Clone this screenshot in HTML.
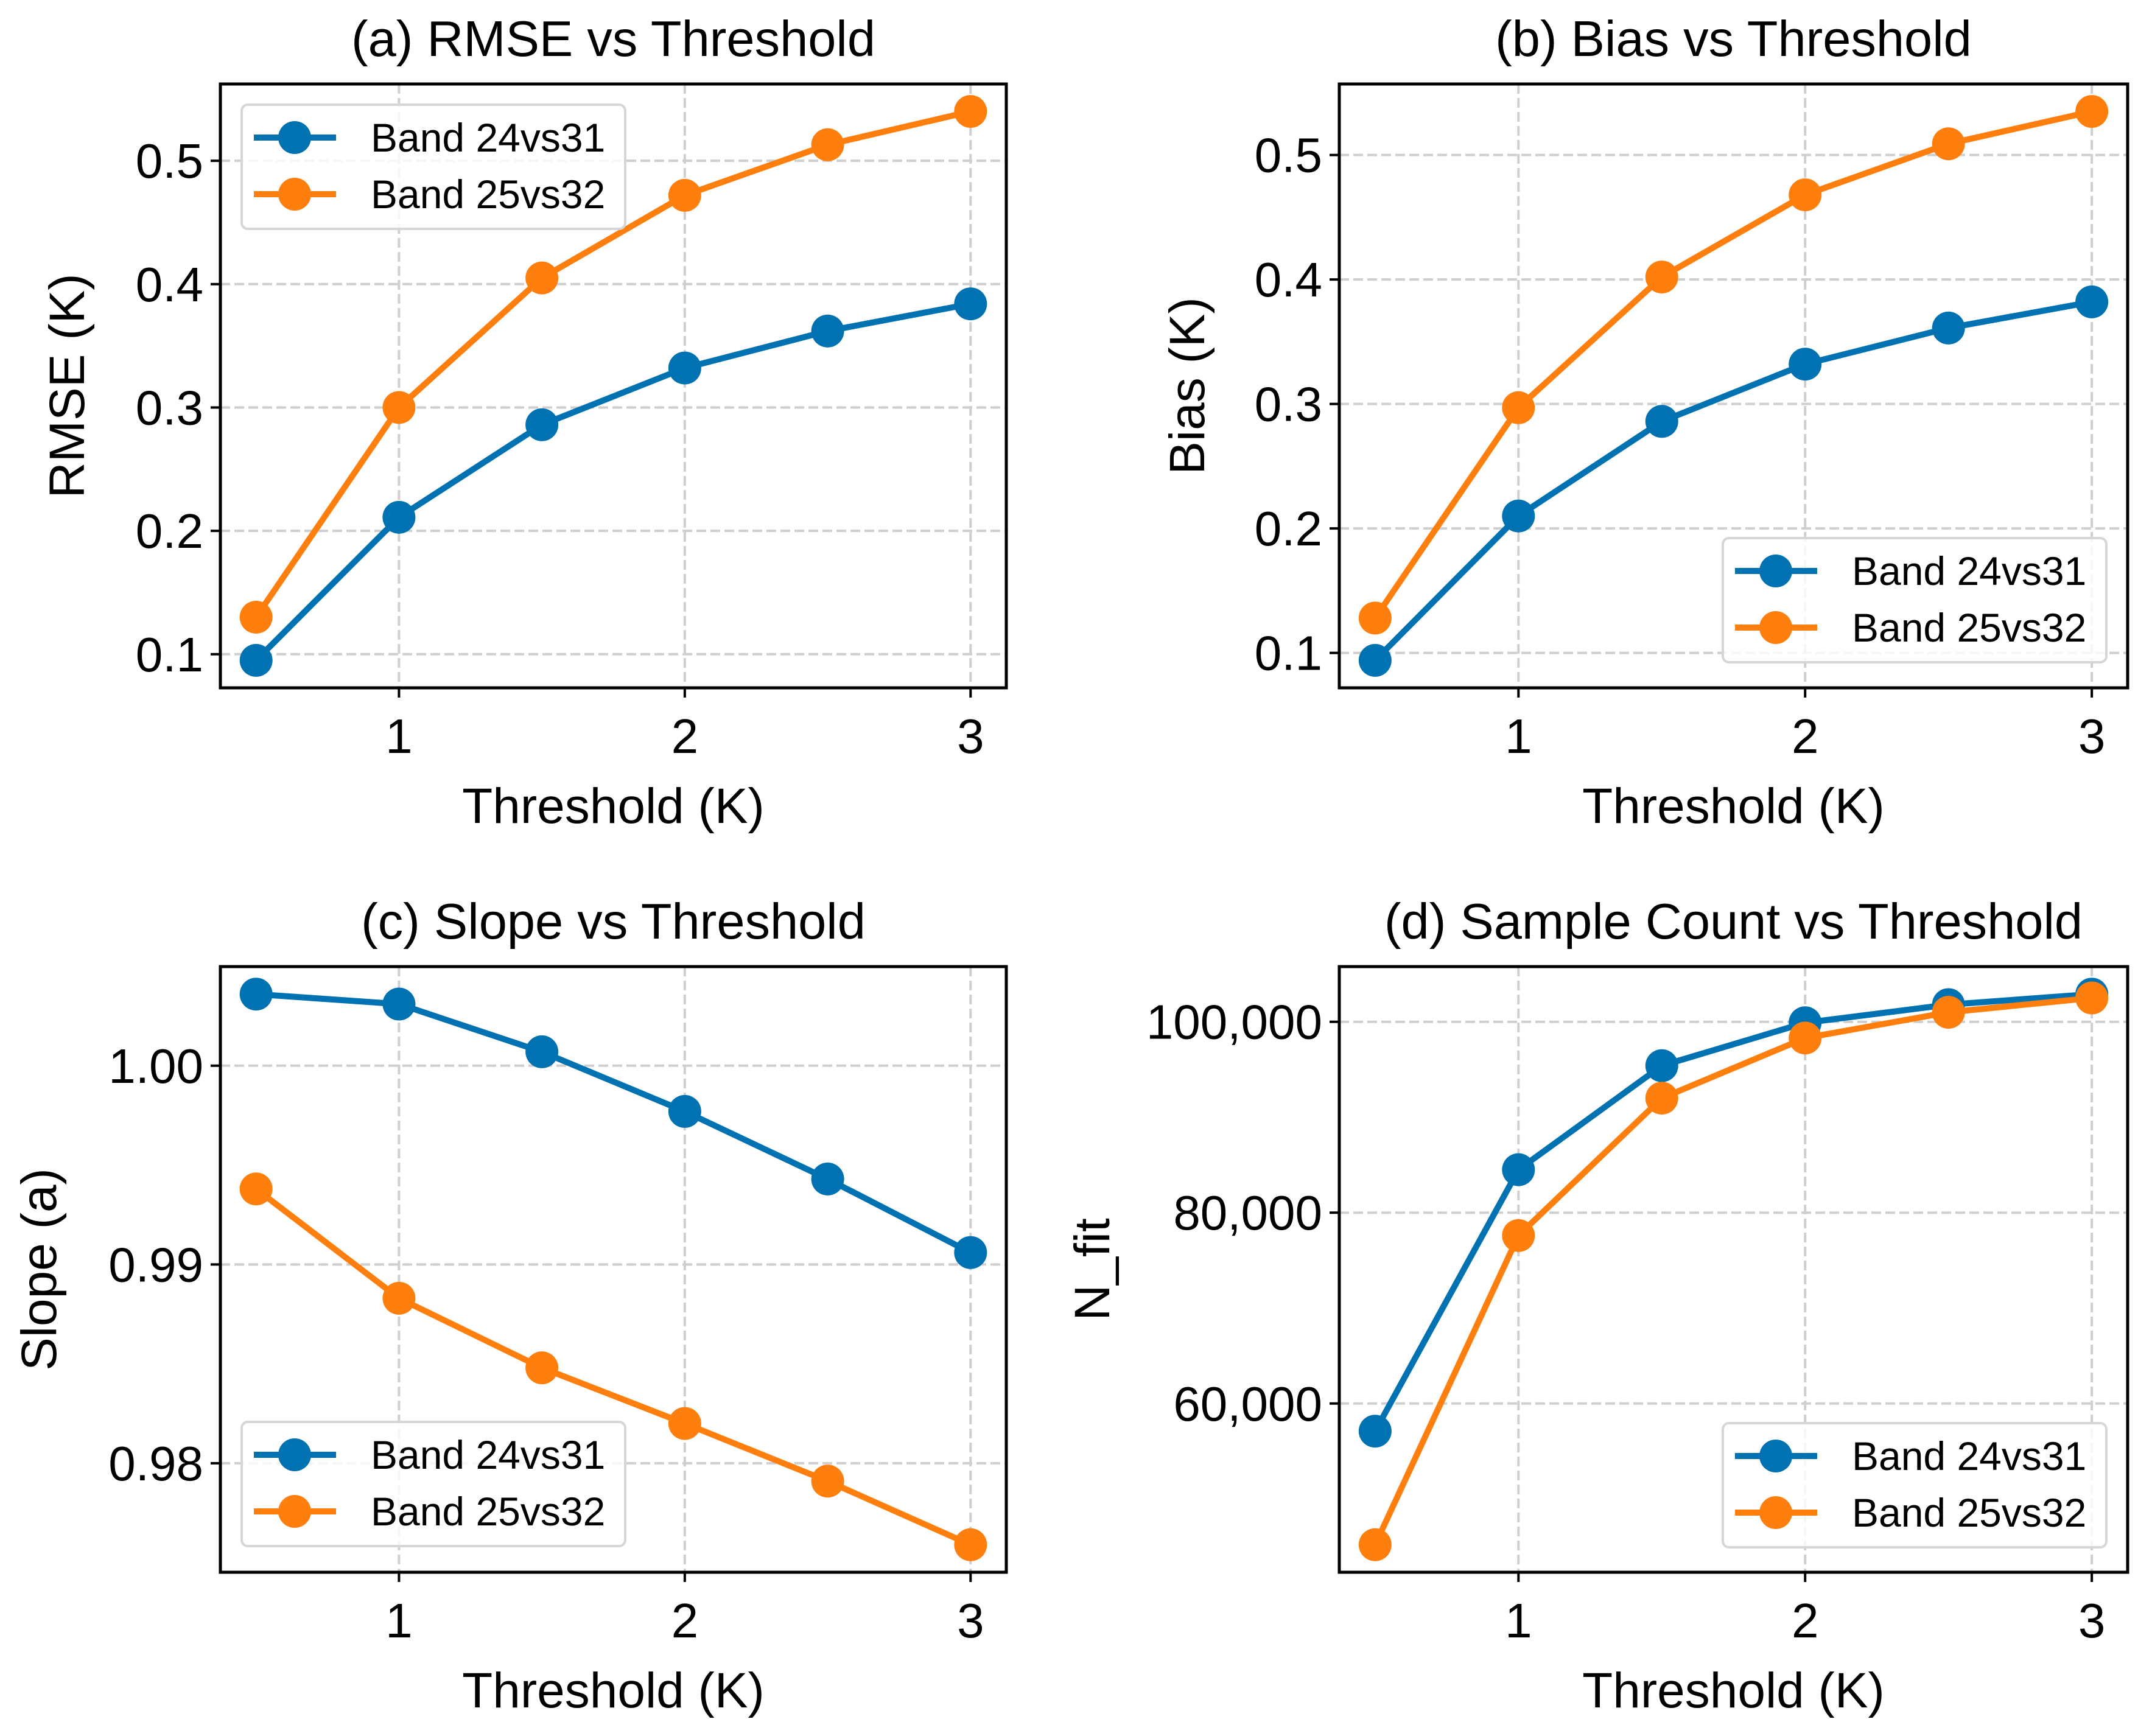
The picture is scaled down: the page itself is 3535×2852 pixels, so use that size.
<!DOCTYPE html>
<html><head><meta charset="utf-8">
<style>
html,body{margin:0;padding:0;background:#fff;}
svg{display:block;font-family:"Liberation Sans","DejaVu Sans",sans-serif;}
</style></head>
<body>
<svg id="fig" width="3535" height="2852" viewBox="0 0 3535 2852" xmlns="http://www.w3.org/2000/svg"></svg>
<script>
const thresholds = [0.5, 1, 1.5, 2, 2.5, 3];
const xTicks = [1, 2, 3];
const seriesNames = ["Band 24vs31", "Band 25vs32"];
const rmseBlue = [0.095, 0.211, 0.286, 0.332, 0.362, 0.384];
const rmseOrange = [0.130, 0.300, 0.405, 0.472, 0.513, 0.540];
const biasBlue = [0.094, 0.210, 0.286, 0.332, 0.361, 0.382];
const biasOrange = [0.128, 0.297, 0.402, 0.468, 0.509, 0.535];
const slopeBlue = [1.0036, 1.0031, 1.0007, 0.9977, 0.9943, 0.9906];
const slopeOrange = [0.9938, 0.9883, 0.9848, 0.9820, 0.9791, 0.9759];
const countBlue = [57100, 84500, 95400, 99900, 101800, 102900];
const countOrange = [45200, 77600, 92000, 98300, 101000, 102500];
const rmseTicks = [0.1, 0.2, 0.3, 0.4, 0.5];
const biasTicks = [0.1, 0.2, 0.3, 0.4, 0.5];
const slopeTicks = [0.98, 0.99, 1.00];
const countTicks = [60000, 80000, 100000];

const NS = "http://www.w3.org/2000/svg";
const svg = document.getElementById("fig");
const BLUE = "#0072B2", ORANGE = "#FF7F0E";
function mk(tag, attrs, parent) {
  const e = document.createElementNS(NS, tag);
  for (const k in attrs) e.setAttribute(k, attrs[k]);
  (parent || svg).appendChild(e);
  return e;
}
function panel(o) {
  const g = mk("g", {});
  
  
  const L = o.box[0], R = o.box[1], T = o.box[2], B = o.box[3];
  const allY = o.blue.concat(o.orange);
  const ymin = Math.min(...allY), ymax = Math.max(...allY);
  const ym = (ymax - ymin) * 0.05;
  const y0 = ymin - ym, y1 = ymax + ym;
  const xmin = Math.min(...thresholds), xmax = Math.max(...thresholds);
  const xm = (xmax - xmin) * 0.05;
  const x0 = xmin - xm, x1 = xmax + xm;
  const sx = v => L + (v - x0) / (x1 - x0) * (R - L);
  const sy = v => B - (v - y0) / (y1 - y0) * (B - T);
  xTicks.forEach(t => {
    const l = mk("line", {x1: sx(t), x2: sx(t), y1: T, y2: B, stroke: "#cfcfcf", "stroke-width": 4, "stroke-dasharray": "16 7"}, g);
    
    
  });
  o.yTicks.forEach(t => {
    const l = mk("line", {x1: L, x2: R, y1: sy(t), y2: sy(t), stroke: "#cfcfcf", "stroke-width": 4, "stroke-dasharray": "16 7"}, g);
    
    
  });
  [[o.blue, BLUE, "blue"], [o.orange, ORANGE, "orange"]].forEach(([vals, col, nm]) => {
    const pts = vals.map((v, i) => sx(thresholds[i]) + "," + sy(v)).join(" ");
    const pl = mk("polyline", {points: pts, fill: "none", stroke: col, "stroke-width": 10, "stroke-linejoin": "round"}, g);
    
    
    vals.forEach((v, i) => {
      const c = mk("circle", {cx: sx(thresholds[i]), cy: sy(v), r: 27, fill: col}, g);
      
      
    });
  });
  const fr = mk("rect", {x: L, y: T, width: R - L, height: B - T, fill: "none", stroke: "#000", "stroke-width": 5}, g);
  
  
  xTicks.forEach(t => {
    mk("line", {x1: sx(t), x2: sx(t), y1: B, y2: B + 16, stroke: "#000", "stroke-width": 4}, g);
    const tx = mk("text", {x: sx(t), y: B + 107, "font-size": 80, "text-anchor": "middle", fill: "#000"}, g);
    tx.textContent = String(t);
    
    
  });
  o.yTicks.forEach(t => {
    mk("line", {x1: L - 16, x2: L, y1: sy(t), y2: sy(t), stroke: "#000", "stroke-width": 4}, g);
    const tx = mk("text", {x: L - 28, y: sy(t) + 28, "font-size": 80, "text-anchor": "end", fill: "#000"}, g);
    tx.textContent = o.fmt(t);
    
    
  });
  const tt = mk("text", {x: (L + R) / 2, y: T - 46, "font-size": 83, "text-anchor": "middle", fill: "#000"}, g);
  tt.textContent = o.title;
  
  
  const xl = mk("text", {x: (L + R) / 2, y: B + 222, "font-size": 82, "text-anchor": "middle", fill: "#000"}, g);
  xl.textContent = "Threshold (K)";
  
  
  const yl = mk("text", {x: 0, y: 0, "font-size": 82, "text-anchor": "middle", fill: "#000", transform: `translate(${o.ylx},${(T + B) / 2}) rotate(-90)`}, g);
  yl.textContent = o.ylabel;
  
  
  const lg = mk("g", {}, g);
  
  
  const lx = o.leg[0], ly = o.leg[1];
  mk("rect", {x: lx, y: ly, width: 630, height: 204, rx: 10, fill: "#fff", "fill-opacity": 0.8, stroke: "#d6d6d6", "stroke-width": 4}, lg);
  [[BLUE, 0], [ORANGE, 1]].forEach(([col, i]) => {
    const yy = ly + 54 + i * 93;
    const en = mk("g", {}, lg);
    
    
    mk("line", {x1: lx + 20, x2: lx + 155, y1: yy, y2: yy, stroke: col, "stroke-width": 10}, en);
    mk("circle", {cx: lx + 87, cy: yy, r: 27, fill: col}, en);
    const t = mk("text", {x: lx + 212, y: yy + 23, "font-size": 66, fill: "#000"}, en);
    t.textContent = seriesNames[i];
  });
}
const f1 = t => t.toFixed(1);
const f2 = t => t.toFixed(2);
const fc = t => t.toLocaleString("en-US");
panel({name: "panel-rmse", box: [362, 1653, 138, 1130], blue: rmseBlue, orange: rmseOrange, yTicks: rmseTicks, fmt: f1, title: "(a) RMSE vs Threshold", ylabel: "RMSE (K)", ylx: 138, leg: [397, 172]});
panel({name: "panel-bias", box: [2200, 3495, 138, 1130], blue: biasBlue, orange: biasOrange, yTicks: biasTicks, fmt: f1, title: "(b) Bias vs Threshold", ylabel: "Bias (K)", ylx: 1978, leg: [2830, 884]});
panel({name: "panel-slope", box: [362, 1653, 1588, 2583], blue: slopeBlue, orange: slopeOrange, yTicks: slopeTicks, fmt: f2, title: "(c) Slope vs Threshold", ylabel: "Slope (a)", ylx: 92, leg: [397, 2336]});
panel({name: "panel-count", box: [2200, 3495, 1588, 2583], blue: countBlue, orange: countOrange, yTicks: countTicks, fmt: fc, title: "(d) Sample Count vs Threshold", ylabel: "N_fit", ylx: 1822, leg: [2830, 2338]});
</script>
</body></html>
